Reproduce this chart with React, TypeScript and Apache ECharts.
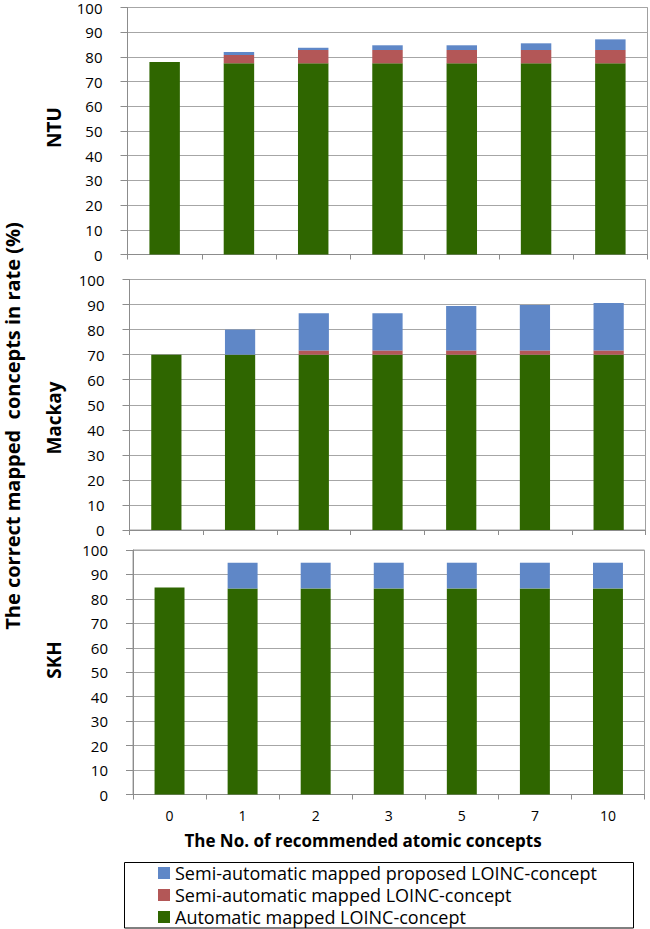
import React, { useEffect, useRef } from "react";
import * as echarts from "echarts";

const categories = ["0", "1", "2", "3", "5", "7", "10"];
const panels = ["NTU", "Mackay", "SKH"];

const ntuAuto = [77.9, 77.4, 77.4, 77.4, 77.4, 77.4, 77.4];
const ntuSemi = [0, 3.4, 5.4, 5.4, 5.4, 5.4, 5.4];
const ntuProposed = [0, 1.2, 0.9, 1.9, 1.9, 2.7, 4.3];

const mackayAuto = [70, 70, 70, 70, 70, 70, 70];
const mackaySemi = [0, 0, 1.7, 1.7, 1.7, 1.7, 1.7];
const mackayProposed = [0, 10, 14.8, 14.8, 17.7, 18.1, 18.9];

const skhAuto = [84.7, 84.3, 84.3, 84.3, 84.3, 84.3, 84.3];
const skhSemi = [0, 0, 0, 0, 0, 0, 0];
const skhProposed = [0, 10.5, 10.5, 10.5, 10.5, 10.5, 10.5];

const yTicks = [0, 10, 20, 30, 40, 50, 60, 70, 80, 90, 100];

const seriesNames = [
  "Semi-automatic mapped proposed LOINC-concept",
  "Semi-automatic mapped LOINC-concept",
  "Automatic mapped LOINC-concept",
];
const yTitle = "The correct mapped  concepts in rate (%)";
const xTitle = "The No. of recommended atomic concepts";

const GREEN = "#2F6600";
const RED = "#B35757";
const BLUE = "#5F87C7";
const FONT = "'Open Sans', 'Noto Sans', sans-serif";

export default function App() {
  const ref = useRef<HTMLDivElement>(null);
  useEffect(() => {
    if (!ref.current) return;
    const chart = echarts.init(ref.current, undefined, { renderer: "svg" });
    const grids = [
      { left: 127.5, right: 2.5, top: 7.5, height: 247 },
      { left: 129.5, right: 4.5, top: 279.5, height: 250.5 },
      { left: 133, right: 5.5, top: 550, height: 244.5 },
    ];
    const data = [
      [ntuAuto, ntuSemi, ntuProposed],
      [mackayAuto, mackaySemi, mackayProposed],
      [skhAuto, skhSemi, skhProposed],
    ];
    const series: any[] = [];
    data.forEach((d, i) => {
      const [a, s, p] = d;
      series.push({
        name: seriesNames[2], type: "bar", stack: "s" + i, xAxisIndex: i, yAxisIndex: i,
        data: a, barWidth: "41%", itemStyle: { color: GREEN },
      });
      series.push({
        name: seriesNames[1], type: "bar", stack: "s" + i, xAxisIndex: i, yAxisIndex: i,
        data: s, barWidth: "41%", itemStyle: { color: RED },
      });
      series.push({
        name: seriesNames[0], type: "bar", stack: "s" + i, xAxisIndex: i, yAxisIndex: i,
        data: p, barWidth: "41%", itemStyle: { color: BLUE },
      });
    });
    const centers = [127.5, 418, 660];
    chart.setOption({
      animation: false,
      grid: grids.map((g) => ({
        ...g, show: true, borderColor: "#A0A0A0", borderWidth: 1,
        containLabel: false, outerBoundsMode: "none",
      })),
      xAxis: grids.map((_, i) => ({
        type: "category", gridIndex: i, data: categories,
        axisLine: { show: true, lineStyle: { color: "#8C8C8C" } },
        axisTick: { show: true, length: 5, lineStyle: { color: "#8C8C8C" } },
        axisLabel: {
          show: i === 2, fontSize: 14, color: "#000", fontFamily: FONT, margin: 14,
        },
        splitLine: { show: false },
      })),
      yAxis: grids.map((_, i) => ({
        type: "value", gridIndex: i, min: 0, max: 100, interval: 10,
        axisLine: { show: true, lineStyle: { color: "#8C8C8C" } },
        axisTick: { show: true, length: 7, lineStyle: { color: "#8C8C8C" } },
        axisLabel: {
          fontSize: 15, color: "#000", fontFamily: FONT, margin: 25,
          formatter: (v: number) => (yTicks.includes(v) ? String(v) : ""),
        },
        splitLine: { show: true, lineStyle: { color: "#A6A6A6", width: 1 } },
      })),
      legend: {
        orient: "vertical", left: 158, top: 864,
        data: seriesNames, icon: "rect", itemWidth: 12, itemHeight: 12, itemGap: 4,
        textStyle: { fontSize: 18, lineHeight: 18, color: "#000", fontFamily: FONT },
        selectedMode: false, padding: 0,
      },
      graphic: [
        ...panels.map((p, i) => ({
          type: "text", x: 54, y: centers[i], rotation: Math.PI / 2,
          style: {
            text: p, font: `bold 19px ${FONT}`, fill: "#000",
            align: "center", verticalAlign: "middle",
            textAlign: "center", textVerticalAlign: "middle",
          },
        })),
        {
          type: "text", x: 12, y: 426, rotation: Math.PI / 2,
          style: {
            text: yTitle, font: `bold 20px ${FONT}`, fill: "#000",
            align: "center", verticalAlign: "middle",
            textAlign: "center", textVerticalAlign: "middle",
          },
        },
        {
          type: "text", x: 363, y: 840,
          style: {
            text: xTitle, font: `bold 17px ${FONT}`, fill: "#000",
            align: "center", verticalAlign: "middle",
            textAlign: "center", textVerticalAlign: "middle",
          },
        },
        {
          type: "rect", shape: { x: 124.5, y: 862.5, width: 509, height: 65.5 },
          style: { fill: "none", stroke: "#000", lineWidth: 1 },
        },
      ],
      series,
    });
    return () => chart.dispose();
  }, []);
  return (
    <div
      ref={ref}
      style={{ position: "fixed", left: 0, top: 0, width: 650, height: 929, background: "#fff" }}
    />
  );
}
